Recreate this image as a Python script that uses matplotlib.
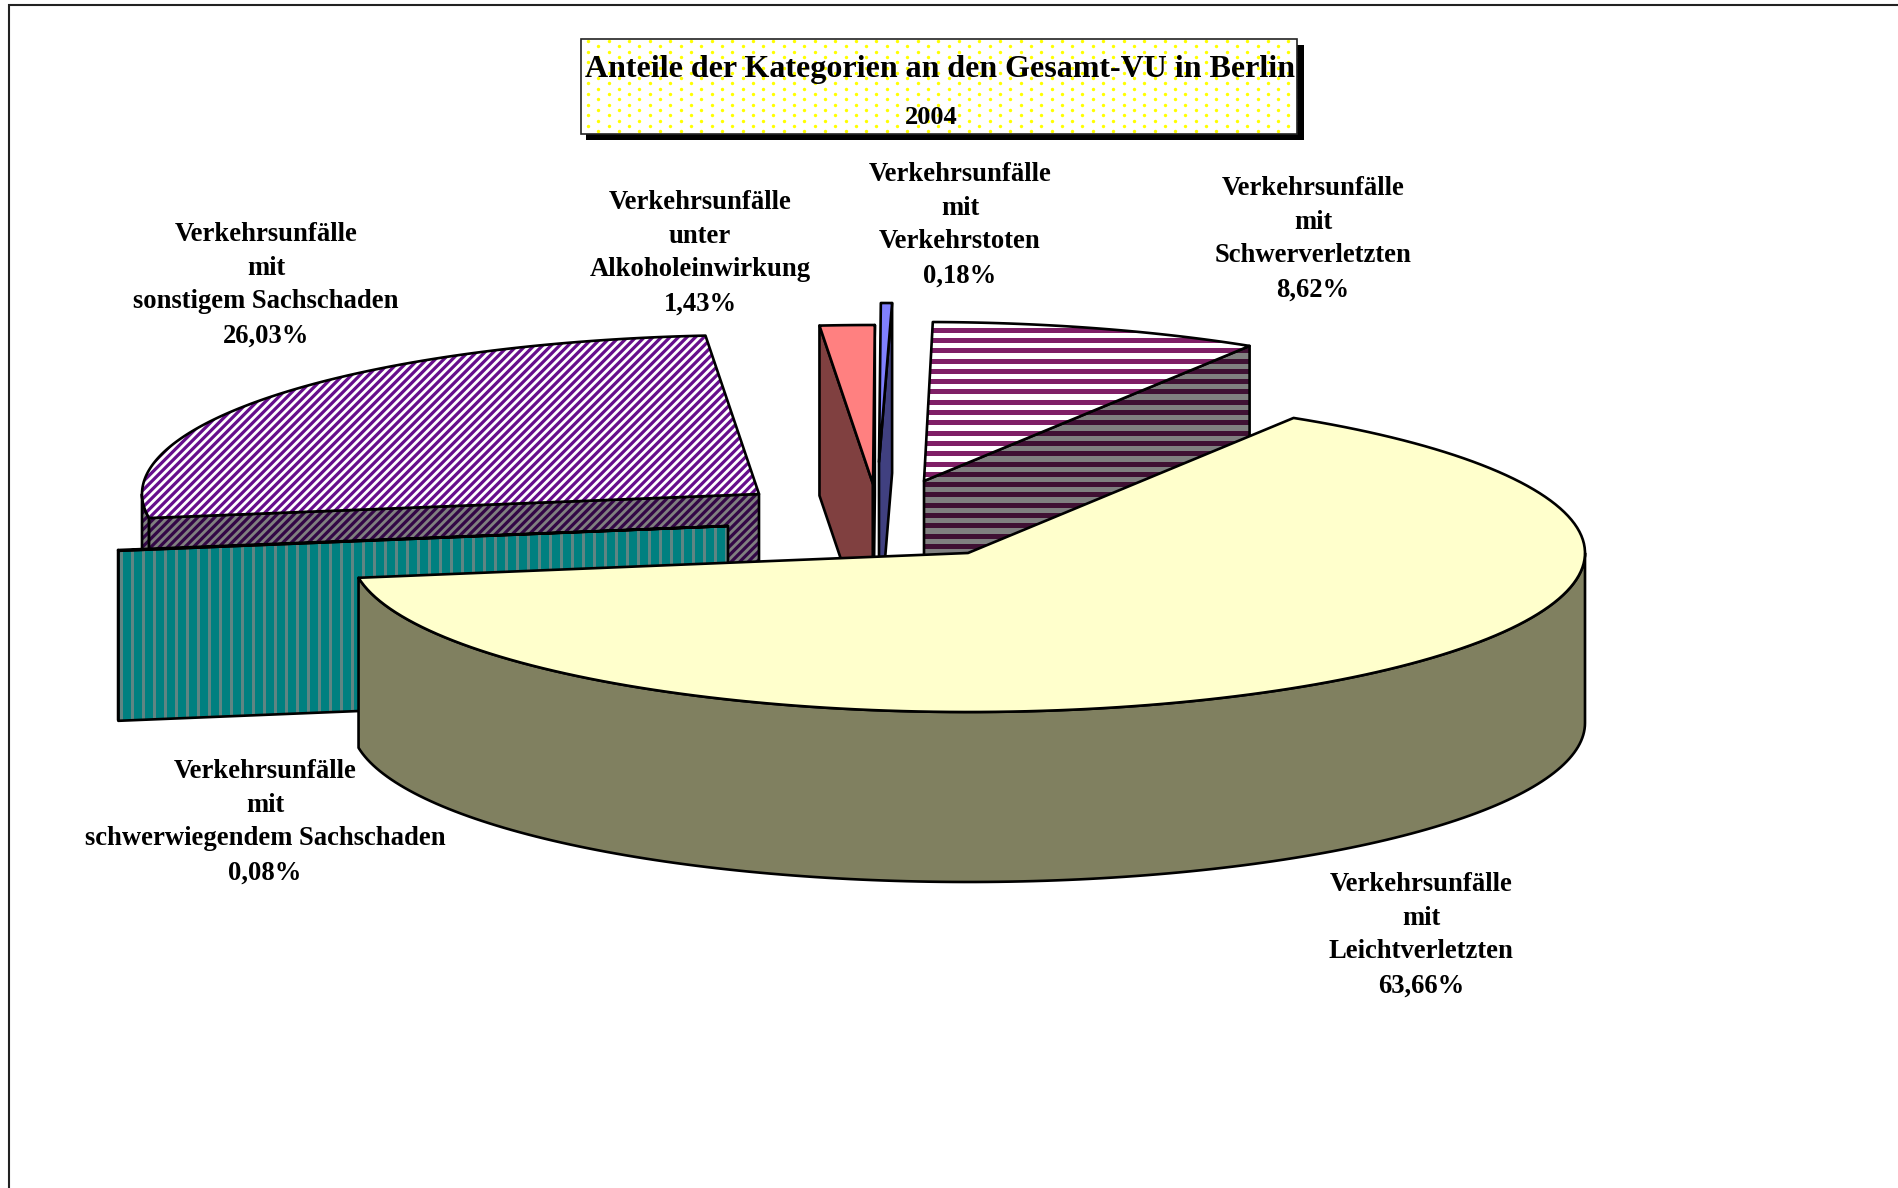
#!/usr/bin/env python3
import numpy as np
import matplotlib as mpl
mpl.use('Agg')
import matplotlib.pyplot as plt
from matplotlib.collections import LineCollection
from matplotlib.patches import Polygon, Rectangle

plt.rcParams['font.family'] = ['Liberation Serif', 'DejaVu Serif']
plt.rcParams['font.weight'] = 'bold'

# slices, clockwise, starting with the big one
categories = ['mit\nLeichtverletzten', 'mit\nschwerwiegendem Sachschaden',
              'mit\nsonstigem Sachschaden', 'unter\nAlkoholeinwirkung',
              'mit\nVerkehrstoten', 'mit\nSchwerverletzten']
shares = [63.66, 0.08, 26.03, 1.43, 0.18, 8.62]
title = 'Anteile der Kategorien an den Gesamt-VU in Berlin'
year = '2004'

# layout, in pixels of the 1898x1188 picture
W, H = 1898, 1188
RX, RY, DEPTH = 617, 159, 170
START = 58.15
apex = [(968, 553), (728, 526), (759, 494), (873, 484), (879, 462), (924, 481)]
label_pos = [(1421, 935), (265, 822), (266, 285), (700, 253), (960, 225), (1313, 239)]
# the thinnest wedge is drawn a touch wider than its share, as the original does
widen = [0, 0, 0, 0, 0.4, 0]
# top colour, wall colour, stripe on top, stripe on wall, stripe kind, period, stripe width px
styles = [('#ffffcc', '#808060', None, None, None, 0, 0),
          ('#008080', '#008080', '#5f8583', '#5f8583', 'v', 11, 3),
          ('#ffffff', '#808080', '#660e8c', '#330746', 'd', 8.5, 3.2),
          ('#ff8080', '#804040', None, None, None, 0, 0),
          ('#8080ff', '#404080', None, None, None, 0, 0),
          ('#ffffff', '#808080', '#7f1f66', '#3f1033', 'h', 10.3, 5)]

fig = plt.figure(figsize=(W / 100, H / 100), dpi=100)
ax = fig.add_axes([0, 0, 1, 1])
ax.set_xlim(0, W)
ax.set_ylim(H, 0)
ax.axis('off')


def rim(c, t0, t1, n=160):
    t = np.radians(np.linspace(t0, t1, n))
    return np.column_stack([c[0] + RX * np.cos(t), c[1] - RY * np.sin(t)])


def stripes(pts, kind, period):
    xmin, ymin = pts.min(axis=0)
    xmax, ymax = pts.max(axis=0)
    segs = []
    if kind == 'h':
        for y in np.arange(ymin - ymin % period, ymax + period, period):
            segs.append([(xmin, y), (xmax, y)])
    elif kind == 'v':
        for x in np.arange(xmin - xmin % period, xmax + period, period):
            segs.append([(x, ymin), (x, ymax)])
    else:
        span = ymax - ymin
        for x in np.arange(xmin - xmin % period, xmax + span + period, period):
            segs.append([(x, ymin), (x - span, ymax)])
    return segs


def face(pts, bg, fg=None, kind=None, period=0, width=0, z=1):
    pts = np.asarray(pts)
    patch = Polygon(pts, closed=True, facecolor=bg, edgecolor='none', zorder=z)
    ax.add_patch(patch)
    if fg is not None:
        lc = LineCollection(stripes(pts, kind, period), colors=fg,
                            linewidths=width * 0.72, zorder=z, antialiaseds=True)
        ax.add_collection(lc)
        lc.set_clip_path(patch)
    ax.add_patch(Polygon(pts, closed=True, fill=False, edgecolor='black', linewidth=1.9,
                         joinstyle='round', zorder=z))


# angles of every slice, walking clockwise
sweeps = np.array(shares) / sum(shares) * 360
starts = START - np.concatenate([[0], np.cumsum(sweeps)[:-1]])
ends = starts - sweeps - np.array(widen)

# back to front
for i in [2, 3, 4, 5, 1, 0]:
    c, t0, t1 = apex[i], starts[i], ends[i]
    top_col, wall_col, fg_top, fg_wall, kind, period, width = styles[i]
    z = [6, 5, 1, 2, 3, 4][i]
    top = np.vstack([[c], rim(c, t0, t1)])
    down = np.array([0, DEPTH])

    # outer wall where the rim faces the viewer
    a, b = max(min(t0, t1), -180), min(max(t0, t1), 0)
    if a < b:
        arc = rim(c, a, b)
        face(np.vstack([arc, arc[::-1] + down]), wall_col, fg_wall, kind, period, width, z)

    # cut faces that look towards the viewer
    if i != 0:
        for t, seen in [(t0, t0 % 360 > 90), (t1, t1 % 360 < 90)]:
            if seen:
                tip = rim(c, t, t, 1)[0]
                face([c, tip, tip + down, np.array(c) + down], wall_col, fg_wall, kind, period, width, z)
    face(top, top_col, fg_top, kind, period, width, z)

# slice captions
for name, share, (x, y) in zip(categories, shares, label_pos):
    txt = 'Verkehrsunfälle\n%s\n%s%%' % (name, ('%.2f' % share).replace('.', ','))
    ax.text(x, y, txt, ha='center', va='center', fontsize=19.2, linespacing=1.47,
            color='black', zorder=10)

# title box with its shadow and dotted fill
ax.add_patch(Rectangle((586, 45), 718, 95, facecolor='black', edgecolor='none', zorder=7))
paper = Rectangle((581, 39), 716, 95, facecolor='white', edgecolor='none', zorder=8)
ax.add_patch(paper)
dx, dy = np.meshgrid(np.arange(588, 1297, 20.6), np.arange(41, 136, 10.6))
dots = ax.scatter(np.concatenate([dx.ravel(), dx.ravel() + 10.3]),
                  np.concatenate([dy.ravel(), dy.ravel() + 5.3]), s=6, color='#ffff00',
                  linewidths=0, zorder=8)
dots.set_clip_path(paper)
ax.add_patch(Rectangle((581, 39), 716, 95, fill=False, edgecolor='#222222', linewidth=1.2, zorder=9))
ax.text(940, 69, title, ha='center', va='center', fontsize=23, zorder=10)
ax.text(931, 118, year, ha='center', va='center', fontsize=19, zorder=10)

# page frame: only top and left show
ax.plot([9, 9, W], [H, 5, 5], color='#222222', linewidth=1.5, zorder=0, solid_joinstyle='miter')

fig.savefig('out.png', dpi=100)
